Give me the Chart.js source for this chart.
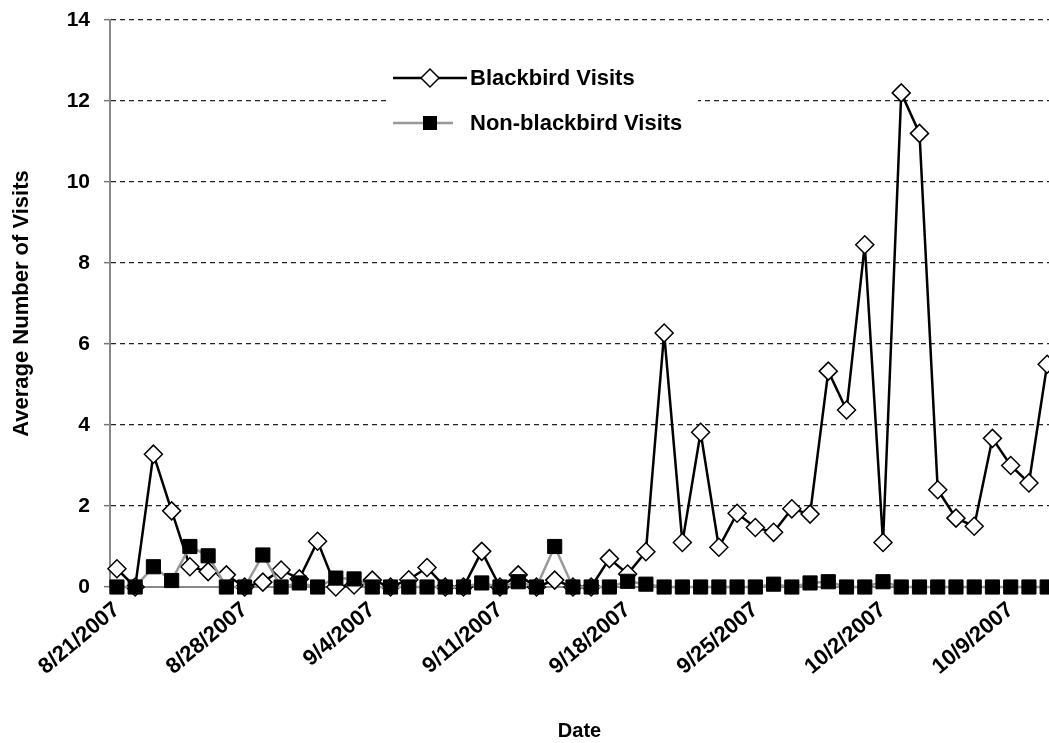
<!DOCTYPE html>
<html>
<head>
<meta charset="utf-8">
<script src="https://cdn.jsdelivr.net/npm/chart.js@4.4.0/dist/chart.umd.min.js"></script>
<style>
  html, body { margin: 0; padding: 0; background: #fff; overflow: hidden; }
</style>
</head>
<body>
<canvas id="chart" width="1049" height="743"></canvas>
<script>
const dates = [
    '8/21/2007', '8/22/2007', '8/23/2007', '8/24/2007', '8/25/2007', '8/26/2007', '8/27/2007',
    '8/28/2007', '8/29/2007', '8/30/2007', '8/31/2007', '9/1/2007', '9/2/2007', '9/3/2007',
    '9/4/2007', '9/5/2007', '9/6/2007', '9/7/2007', '9/8/2007', '9/9/2007', '9/10/2007',
    '9/11/2007', '9/12/2007', '9/13/2007', '9/14/2007', '9/15/2007', '9/16/2007', '9/17/2007',
    '9/18/2007', '9/19/2007', '9/20/2007', '9/21/2007', '9/22/2007', '9/23/2007', '9/24/2007',
    '9/25/2007', '9/26/2007', '9/27/2007', '9/28/2007', '9/29/2007', '9/30/2007', '10/1/2007',
    '10/2/2007', '10/3/2007', '10/4/2007', '10/5/2007', '10/6/2007', '10/7/2007', '10/8/2007',
    '10/9/2007', '10/10/2007', '10/11/2007'
];

const blackbird = [
    0.45, 0, 3.28, 1.88, 0.5, 0.38, 0.3,
    0, 0.12, 0.42, 0.2, 1.13, 0, 0.05,
    0.17, 0, 0.18, 0.48, 0, 0, 0.88,
    0, 0.3, 0, 0.17, 0, 0, 0.7,
    0.32, 0.87, 6.27, 1.1, 3.82, 0.98, 1.82,
    1.47, 1.35, 1.93, 1.8, 5.33, 4.37, 8.45,
    1.1, 12.2, 11.2, 2.4, 1.7, 1.5, 3.67,
    3.0, 2.57, 5.5
];

const nonBlackbird = [
    0, 0, 0.5, 0.16, 1.0, 0.77, 0,
    0, 0.79, 0, 0.1, 0, 0.22, 0.2,
    0, 0, 0, 0, 0, 0, 0.1,
    0, 0.13, 0, 1.0, 0, 0, 0,
    0.14, 0.07, 0, 0, 0, 0, 0,
    0, 0.07, 0, 0.1, 0.13, 0, 0,
    0.13, 0, 0, 0, 0, 0, 0,
    0, 0, 0
];

// every 7th day gets a label
const dateTicks = [0, 7, 14, 21, 28, 35, 42, 49];

const FONT = 'Liberation Sans, Arial, sans-serif';

// legend sits inside the plot, on a white box over the grid
const legendInside = {
    id: 'legendInside',
    beforeDatasetsDraw(chart) {
        const ctx = chart.ctx;
        ctx.save();
        ctx.fillStyle = '#fff';
        ctx.fillRect(386, 56, 312, 88);

        ctx.font = 'bold 22px ' + FONT;
        ctx.textBaseline = 'middle';

        // Blackbird
        ctx.strokeStyle = '#000';
        ctx.lineWidth = 2.5;
        ctx.beginPath();
        ctx.moveTo(393, 78);
        ctx.lineTo(467, 78);
        ctx.stroke();
        ctx.beginPath();
        ctx.moveTo(421, 78);
        ctx.lineTo(430, 69);
        ctx.lineTo(439, 78);
        ctx.lineTo(430, 87);
        ctx.closePath();
        ctx.fillStyle = '#fff';
        ctx.fill();
        ctx.lineWidth = 1.5;
        ctx.stroke();
        ctx.fillStyle = '#000';
        ctx.fillText('Blackbird Visits', 470, 79);

        // Non-blackbird
        ctx.strokeStyle = '#999';
        ctx.lineWidth = 2.5;
        ctx.beginPath();
        ctx.moveTo(393, 123);
        ctx.lineTo(453, 123);
        ctx.stroke();
        ctx.fillStyle = '#000';
        ctx.fillRect(423, 116, 14, 14);
        ctx.fillText('Non-blackbird Visits', 470, 124);
        ctx.restore();
    }
};

const ctx = document.getElementById('chart').getContext('2d');

new Chart(ctx, {
    type: 'line',
    data: {
        datasets: [
            {
                label: 'Blackbird Visits',
                data: blackbird.map((v, i) => ({ x: i, y: v })),
                borderColor: '#000',
                borderWidth: 2.5,
                pointStyle: 'rectRot',
                pointRadius: 9,
                pointBackgroundColor: '#fff',
                pointBorderColor: '#000',
                pointBorderWidth: 1.5,
                tension: 0,
                clip: false,
                order: 1
            },
            {
                label: 'Non-blackbird Visits',
                data: nonBlackbird.map((v, i) => ({ x: i, y: v })),
                borderColor: '#999',
                borderWidth: 2.5,
                pointStyle: 'rect',
                pointRadius: 10,
                pointBackgroundColor: '#000',
                pointBorderColor: '#000',
                pointBorderWidth: 1,
                tension: 0,
                clip: false,
                order: 0
            }
        ]
    },
    options: {
        responsive: false,
        animation: false,
        devicePixelRatio: 1,
        layout: { autoPadding: false, padding: { top: 20, left: 0, right: 0, bottom: 0 } },
        plugins: {
            legend: { display: false },
            tooltip: { enabled: false }
        },
        scales: {
            x: {
                type: 'linear',
                min: -0.38,
                max: 51.1,
                afterBuildTicks(scale) {
                    scale.ticks = dateTicks.map(v => ({ value: v }));
                },
                afterFit(scale) {
                    scale.height = 156;
                    scale.paddingLeft = 0;
                    scale.paddingRight = 0;
                },
                grid: { display: false },
                border: { display: true, color: '#888', width: 2 },
                ticks: {
                    autoSkip: false,
                    maxRotation: 40,
                    minRotation: 40,
                    padding: 2,
                    color: '#000',
                    font: { family: FONT, size: 22, weight: 'bold' },
                    callback: value => dates[value]
                },
                title: {
                    display: true,
                    text: 'Date',
                    color: '#000',
                    font: { family: FONT, size: 20, weight: 'bold' },
                    padding: { top: 0, bottom: 0 }
                }
            },
            y: {
                min: 0,
                max: 14,
                afterFit(scale) {
                    scale.width = 110;
                    scale.paddingTop = 0;
                    scale.paddingBottom = 0;
                },
                ticks: {
                    stepSize: 2,
                    padding: 14,
                    color: '#000',
                    font: { family: FONT, size: 21, weight: 'bold' }
                },
                grid: {
                    color: c => (c.tick && c.tick.value === 0 ? 'rgba(0,0,0,0)' : '#222'),
                    lineWidth: 1.3,
                    tickLength: 6,
                    tickColor: '#777',
                    tickBorderDash: [6, 0],
                    tickWidth: 1.5
                },
                border: { display: true, color: '#888', width: 2, dash: [5, 4] },
                title: {
                    display: true,
                    text: 'Average Number of Visits',
                    color: '#000',
                    font: { family: FONT, size: 22, weight: 'bold' },
                    padding: { top: 9, bottom: 0 }
                }
            }
        }
    },
    plugins: [legendInside]
});
</script>
</body>
</html>
